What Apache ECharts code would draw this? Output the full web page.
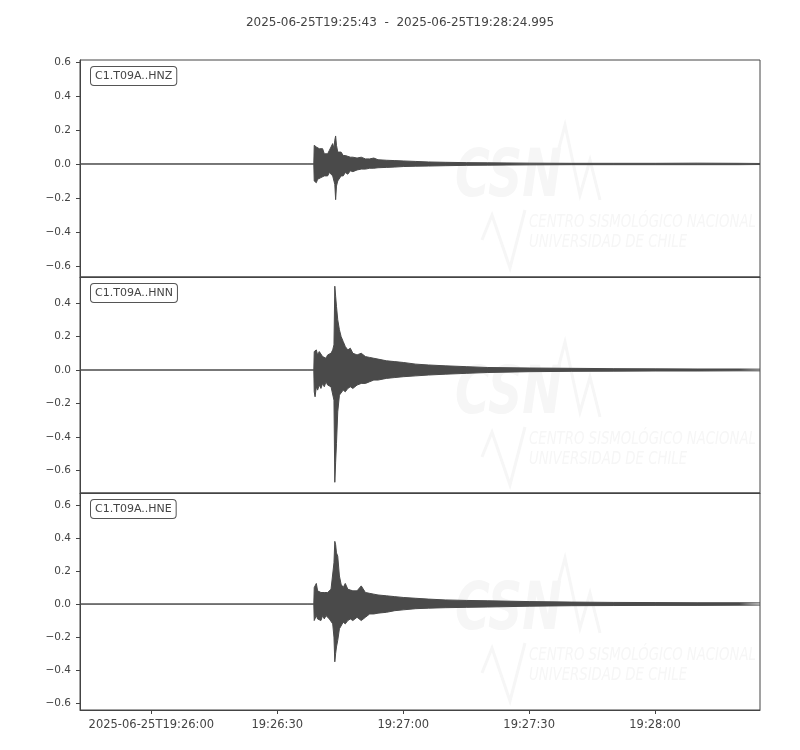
<!DOCTYPE html>
<html>
<head>
<meta charset="utf-8">
<script src="https://cdn.jsdelivr.net/npm/echarts@6/dist/echarts.min.js"></script>
<style>html,body{margin:0;padding:0;background:#fff}#chart{width:800px;height:750px}</style>
</head>
<body>
<div id="chart"></div>
<script>
// Time of each envelope sample, seconds relative to 2025-06-25T19:26:00
const TIME_S = [-17, -8.9, -8.8, -8.7, 37.3, 37.4, 37.5, 38.7,
  38.8, 39.0, 39.3, 39.6, 40.0, 40.4, 40.8, 41.2, 41.6, 42.0,
  42.4, 42.8, 43.2, 43.5, 43.7, 43.9, 44.1, 44.4, 44.8, 45.2,
  45.7, 46.2, 46.8, 47.4, 48, 49, 50, 51, 52, 53,
  54, 56, 58, 60, 63, 66, 70, 75, 80, 90,
  100, 110, 120, 130, 140, 144.995];

// Trace names
const TRACES = ['C1.T09A..HNZ', 'C1.T09A..HNN', 'C1.T09A..HNE'];

// Envelope (upper / lower) of each trace
const HNZ_UP = [0, 0, 0, 0, 0, 0, 0, 0,
  0.11, 0.12, 0.10, 0.11, 0.09, 0.08, 0.09, 0.06, 0.07, 0.06,
  0.08, 0.10, 0.12, 0.09, 0.14, 0.165, 0.11, 0.07, 0.06, 0.07,
  0.05, 0.05, 0.045, 0.04, 0.04, 0.035, 0.04, 0.03, 0.03, 0.035,
  0.025, 0.022, 0.02, 0.018, 0.015, 0.012, 0.01, 0.008, 0.007, 0.005,
  0.004, 0.004, 0.004, 0.005, 0.004, 0.003];
const HNZ_LO = [0, 0, 0, 0, 0, 0, 0, 0,
  -0.10, -0.11, -0.11, -0.09, -0.10, -0.08, -0.09, -0.07, -0.06, -0.07,
  -0.05, -0.06, -0.07, -0.08, -0.12, -0.21, -0.13, -0.10, -0.09, -0.07,
  -0.07, -0.05, -0.06, -0.04, -0.045, -0.035, -0.03, -0.03, -0.025, -0.025,
  -0.022, -0.02, -0.018, -0.015, -0.013, -0.012, -0.01, -0.008, -0.007, -0.005,
  -0.004, -0.004, -0.004, -0.004, -0.004, -0.003];

const HNN_UP = [0, 0, 0, 0, 0, 0, 0, 0,
  0.11, 0.10, 0.12, 0.09, 0.11, 0.10, 0.08, 0.09, 0.07, 0.09,
  0.08, 0.10, 0.12, 0.15, 0.50, 0.44, 0.38, 0.30, 0.24, 0.20,
  0.17, 0.14, 0.12, 0.13, 0.10, 0.09, 0.10, 0.08, 0.075, 0.07,
  0.065, 0.055, 0.05, 0.045, 0.035, 0.03, 0.025, 0.02, 0.015, 0.012,
  0.01, 0.008, 0.007, 0.006, 0.006, 0.005];
const HNN_LO = [0, 0, 0, 0, 0, 0, 0, 0,
  -0.13, -0.16, -0.10, -0.12, -0.09, -0.11, -0.08, -0.10, -0.07, -0.09,
  -0.08, -0.10, -0.11, -0.18, -0.67, -0.55, -0.44, -0.25, -0.15, -0.14,
  -0.12, -0.13, -0.11, -0.10, -0.11, -0.09, -0.08, -0.08, -0.07, -0.06,
  -0.06, -0.05, -0.045, -0.04, -0.035, -0.03, -0.025, -0.02, -0.015, -0.01,
  -0.008, -0.007, -0.006, -0.006, -0.005, -0.005];

const HNE_UP = [0, 0, 0.006, 0, 0, 0.006, 0, 0,
  0.10, 0.11, 0.125, 0.08, 0.09, 0.07, 0.08, 0.07, 0.08, 0.07,
  0.075, 0.09, 0.08, 0.25, 0.38, 0.36, 0.31, 0.29, 0.17, 0.12,
  0.10, 0.125, 0.09, 0.085, 0.08, 0.08, 0.11, 0.07, 0.065, 0.06,
  0.055, 0.05, 0.045, 0.04, 0.035, 0.03, 0.025, 0.022, 0.02, 0.015,
  0.012, 0.01, 0.009, 0.008, 0.008, 0.007];
const HNE_LO = [0, 0, -0.006, 0, 0, -0.006, 0, 0,
  -0.10, -0.09, -0.07, -0.09, -0.08, -0.10, -0.07, -0.09, -0.07, -0.08,
  -0.09, -0.10, -0.12, -0.20, -0.35, -0.30, -0.26, -0.22, -0.15, -0.14,
  -0.11, -0.12, -0.10, -0.09, -0.10, -0.08, -0.10, -0.08, -0.06, -0.06,
  -0.055, -0.05, -0.04, -0.035, -0.028, -0.025, -0.022, -0.02, -0.018, -0.013,
  -0.01, -0.009, -0.008, -0.008, -0.007, -0.006];

// Axis ranges and ticks
const X_MIN = -17, X_MAX = 144.995;
const X_TICKS = [0, 30, 60, 90, 120];
const X_TICK_LABELS = ['2025-06-25T19:26:00', '19:26:30', '19:27:00', '19:27:30', '19:28:00'];
const Y_RANGES = [[-0.665, 0.612], [-0.734, 0.555], [-0.642, 0.673]];
const Y_TICKS = [[-0.6, -0.4, -0.2, 0, 0.2, 0.4, 0.6], [-0.6, -0.4, -0.2, 0, 0.2, 0.4], [-0.6, -0.4, -0.2, 0, 0.2, 0.4, 0.6]];
const TITLE = '2025-06-25T19:25:43  -  2025-06-25T19:28:24.995';

const UPS = [HNZ_UP, HNN_UP, HNE_UP];
const LOS = [HNZ_LO, HNN_LO, HNE_LO];

const INK = '#4a4a4a';
const TXT = '#444';
const FONT = '"DejaVu Sans", sans-serif';
const WM_FONT = '"DejaVu Sans Condensed", "DejaVu Sans", sans-serif';
const panels = [{top: 60, height: 217}, {top: 277, height: 216}, {top: 493, height: 217}];
const N = panels.length;

const grids = [], xAxes = [], yAxes = [], series = [], graphics = [];
panels.forEach((p, k) => {
  grids.push({left: 80, right: 40, top: p.top, height: p.height, show: true,
    borderColor: '#444', borderWidth: 1, backgroundColor: 'transparent'});
  const last = k === N - 1;
  xAxes.push({type: 'value', gridIndex: k, min: X_MIN, max: X_MAX, position: 'bottom',
    axisLine: {show: true, onZero: false, lineStyle: {color: '#444', width: 1}},
    splitLine: {show: false},
    axisTick: {show: last, inside: false, customValues: X_TICKS, length: 4, lineStyle: {color: '#444', width: 1}},
    axisLabel: {show: last, customValues: X_TICKS, margin: 9, color: TXT, fontSize: 11.5, fontFamily: FONT,
      formatter: v => X_TICK_LABELS[X_TICKS.indexOf(Math.round(v))] || ''}});
  yAxes.push({type: 'value', gridIndex: k, min: Y_RANGES[k][0], max: Y_RANGES[k][1], position: 'left',
    axisLine: {show: true, onZero: false, lineStyle: {color: '#444', width: 1}},
    splitLine: {show: false},
    axisTick: {show: true, inside: false, customValues: Y_TICKS[k], length: 4, lineStyle: {color: '#444', width: 1}},
    axisLabel: {customValues: Y_TICKS[k], margin: 9, color: TXT, fontSize: 10.5, fontFamily: FONT,
      formatter: v => (v < -1e-9 ? '\u2212' : '') + Math.abs(v).toFixed(1)}});
  const up = TIME_S.map((t, i) => [t, UPS[k][i]]);
  const lo = TIME_S.map((t, i) => [t, LOS[k][i]]);
  [up, lo].forEach(d => series.push({type: 'line', xAxisIndex: k, yAxisIndex: k, data: d,
    showSymbol: false, symbol: 'none', animation: false, silent: true, clip: true,
    lineStyle: {color: INK, width: 1}, areaStyle: {color: INK, opacity: 1, origin: 0}, z: 3}));

  // faint CSN watermark
  const off = p.top - 60;
  const wm = '#f6f6f6';
  graphics.push({type: 'text', z: 1, silent: true, x: 455, y: 146 + off, scaleX: 0.8,
    style: {text: 'CSN', x: 0, y: 0, font: 'italic bold 66px ' + WM_FONT, fill: wm}});
  graphics.push({type: 'polyline', z: 1, silent: true, shape: {points: [[548, 190 + off], [565, 125 + off], [580, 195 + off], [590, 160 + off], [600, 200 + off]]},
    style: {stroke: wm, lineWidth: 3, fill: null}});
  graphics.push({type: 'polyline', z: 1, silent: true, shape: {points: [[482, 240 + off], [492, 215 + off], [510, 268 + off], [525, 210 + off]]},
    style: {stroke: wm, lineWidth: 3, fill: null}});
  graphics.push({type: 'text', z: 1, silent: true, x: 529, y: 213 + off, scaleX: 0.82,
    style: {text: 'CENTRO SISMOLÓGICO NACIONAL', x: 0, y: 0, font: 'italic 18px ' + WM_FONT, fill: wm}});
  graphics.push({type: 'text', z: 1, silent: true, x: 529, y: 233 + off, scaleX: 0.82,
    style: {text: 'UNIVERSIDAD DE CHILE', x: 0, y: 0, font: 'italic 18px ' + WM_FONT, fill: wm}});

  // trace label box
  graphics.push({type: 'text', z: 10, silent: true, style: {text: TRACES[k], x: 91, y: p.top + 7,
    font: '11px ' + FONT, fill: TXT, backgroundColor: '#fff', borderColor: '#555', borderWidth: 1,
    borderRadius: 3, padding: [4, 4, 3, 4]}});
});

const chart = echarts.init(document.getElementById('chart'), null, {renderer: 'canvas'});
chart.setOption({
  animation: false,
  backgroundColor: '#fff',
  title: {text: TITLE, left: 'center', top: 12,
    textStyle: {fontSize: 12, fontWeight: 'normal', color: TXT, fontFamily: FONT}},
  grid: grids, xAxis: xAxes, yAxis: yAxes, series: series, graphic: graphics
});
</script>
</body>
</html>
